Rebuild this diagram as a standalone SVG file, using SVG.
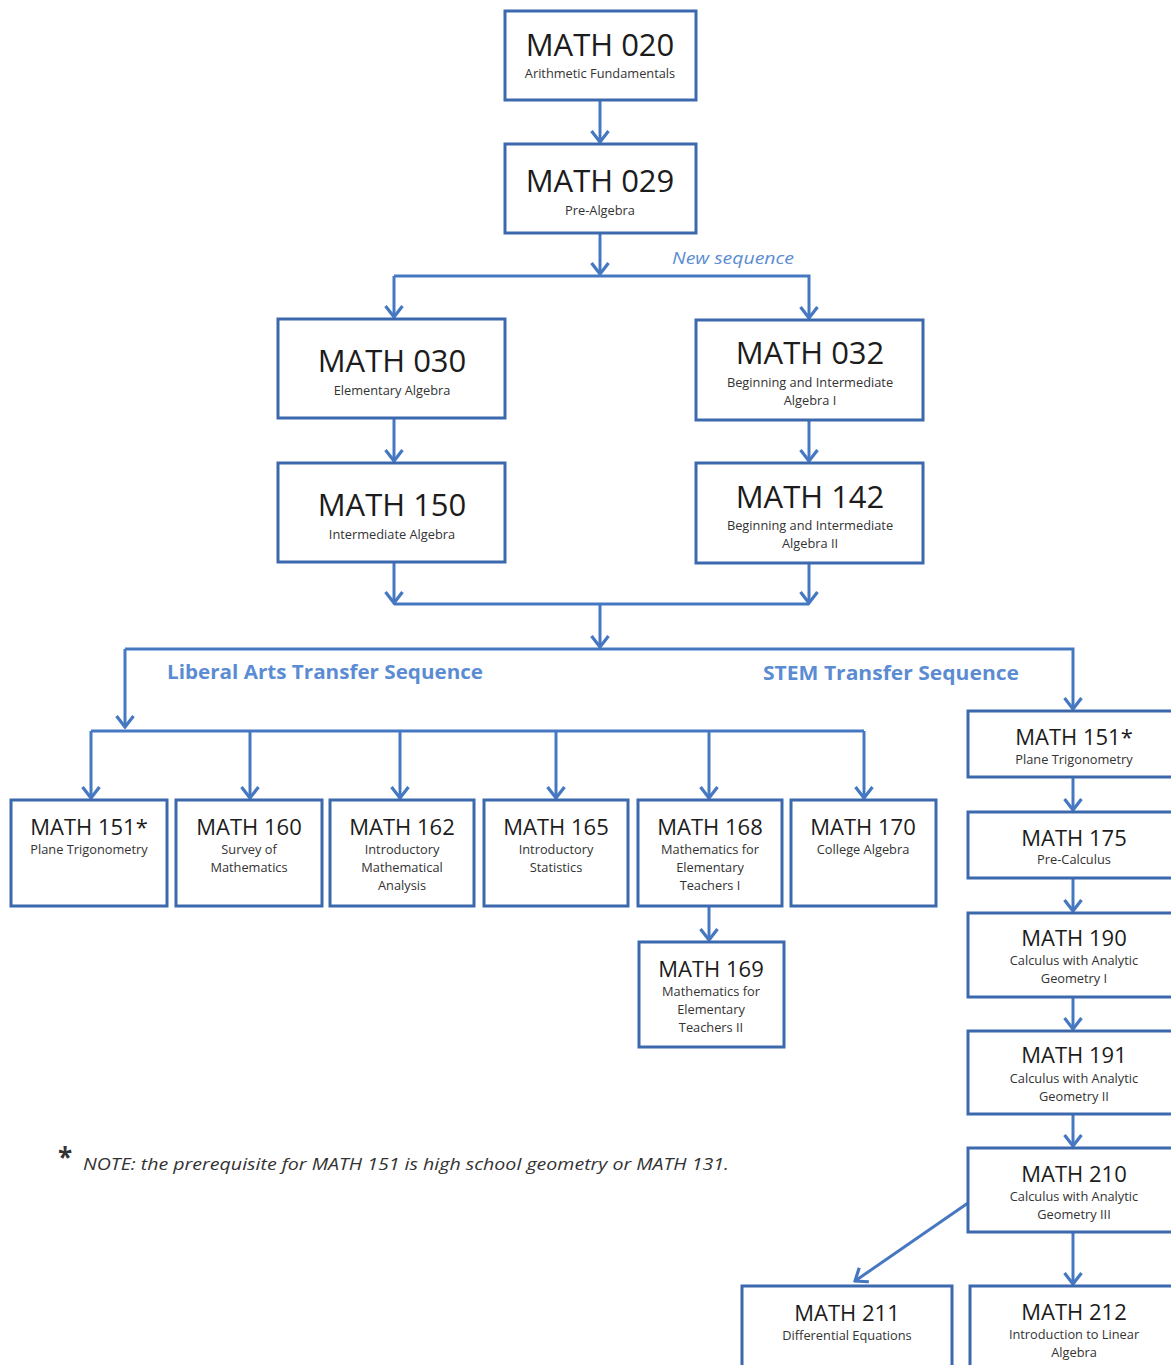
<svg xmlns="http://www.w3.org/2000/svg" width="1171" height="1365" viewBox="0 0 1171 1365">
<style>
.box{fill:#fff;stroke:#3c68ad;stroke-width:3}
.t1{font-family:"Open Sans",sans-serif;font-size:31px;fill:#1c1c1c;text-anchor:middle}
.t2{font-family:"Open Sans",sans-serif;font-size:22px;fill:#1c1c1c;text-anchor:middle}
.s{font-family:"Open Sans",sans-serif;font-size:12.8px;fill:#333;text-anchor:middle}
.c{fill:none;stroke:#4678c2;stroke-width:3}
.lab{font-family:"Open Sans",sans-serif;font-weight:bold;font-size:20px;fill:#5b8cd3}
</style>
<defs>
<marker id="ah" markerUnits="userSpaceOnUse" viewBox="-14 -11 16 22" refX="0" refY="0" markerWidth="16" markerHeight="22" orient="auto">
<path d="M-11,-8.5 L0,0 L-11,8.5" fill="none" stroke="#4678c2" stroke-width="3.2"/>
</marker>
</defs>
<rect width="1171" height="1365" fill="#fff"/>
<g id="connectors">
<line class="c" x1="600" y1="100" x2="600" y2="142" marker-end="url(#ah)"/>
<line class="c" x1="600" y1="233" x2="600" y2="274" marker-end="url(#ah)"/>
<polyline class="c" points="394,276 809,276 809,318" marker-end="url(#ah)"/>
<line class="c" x1="394" y1="276" x2="394" y2="317" marker-end="url(#ah)"/>
<line class="c" x1="394" y1="418" x2="394" y2="461" marker-end="url(#ah)"/>
<line class="c" x1="809" y1="420" x2="809" y2="461" marker-end="url(#ah)"/>
<line class="c" x1="394" y1="562" x2="394" y2="603" marker-end="url(#ah)"/>
<line class="c" x1="809" y1="563" x2="809" y2="603" marker-end="url(#ah)"/>
<line class="c" x1="394" y1="604" x2="809" y2="604"/>
<line class="c" x1="600" y1="604" x2="600" y2="647" marker-end="url(#ah)"/>
<polyline class="c" points="125,649 1073,649 1073,709" marker-end="url(#ah)"/>
<line class="c" x1="125" y1="649" x2="125" y2="727" marker-end="url(#ah)"/>
<line class="c" x1="91" y1="731" x2="864" y2="731"/>
<line class="c" x1="91" y1="731" x2="91" y2="798" marker-end="url(#ah)"/>
<line class="c" x1="250" y1="731" x2="250" y2="798" marker-end="url(#ah)"/>
<line class="c" x1="400" y1="731" x2="400" y2="798" marker-end="url(#ah)"/>
<line class="c" x1="556" y1="731" x2="556" y2="798" marker-end="url(#ah)"/>
<line class="c" x1="709" y1="731" x2="709" y2="798" marker-end="url(#ah)"/>
<line class="c" x1="864" y1="731" x2="864" y2="798" marker-end="url(#ah)"/>
<line class="c" x1="709" y1="906" x2="709" y2="940" marker-end="url(#ah)"/>
<line class="c" x1="1073" y1="777" x2="1073" y2="810" marker-end="url(#ah)"/>
<line class="c" x1="1073" y1="878" x2="1073" y2="911" marker-end="url(#ah)"/>
<line class="c" x1="1073" y1="997" x2="1073" y2="1029" marker-end="url(#ah)"/>
<line class="c" x1="1073" y1="1114" x2="1073" y2="1146" marker-end="url(#ah)"/>
<line class="c" x1="1073" y1="1232" x2="1073" y2="1284" marker-end="url(#ah)"/>
<line class="c" x1="968" y1="1203" x2="855" y2="1281" marker-end="url(#ah)"/>
</g>
<text class="lab" x="672" y="264" style="font-weight:normal;font-style:italic;font-size:17px" textLength="122" lengthAdjust="spacingAndGlyphs">New sequence</text>
<text class="lab" x="167" y="679" textLength="316" lengthAdjust="spacingAndGlyphs">Liberal Arts Transfer Sequence</text>
<text class="lab" x="763" y="680" textLength="256" lengthAdjust="spacingAndGlyphs">STEM Transfer Sequence</text>
<g id="math020"><rect class="box" x="505" y="11" width="191" height="89"/><text class="t1" x="600" y="56">MATH 020</text><text class="s" x="600" y="78">Arithmetic Fundamentals</text></g>
<g id="math029"><rect class="box" x="505" y="144" width="191" height="89"/><text class="t1" x="600" y="192">MATH 029</text><text class="s" x="600" y="215">Pre-Algebra</text></g>
<g id="math030"><rect class="box" x="278" y="319" width="227" height="99"/><text class="t1" x="392" y="372">MATH 030</text><text class="s" x="392" y="395">Elementary Algebra</text></g>
<g id="math032"><rect class="box" x="696" y="320" width="227" height="100"/><text class="t1" x="810" y="364">MATH 032</text><text class="s" x="810" y="387">Beginning and Intermediate</text><text class="s" x="810" y="405">Algebra I</text></g>
<g id="math150"><rect class="box" x="278" y="463" width="227" height="99"/><text class="t1" x="392" y="516">MATH 150</text><text class="s" x="392" y="539">Intermediate Algebra</text></g>
<g id="math142"><rect class="box" x="696" y="463" width="227" height="100"/><text class="t1" x="810" y="508">MATH 142</text><text class="s" x="810" y="530">Beginning and Intermediate</text><text class="s" x="810" y="548">Algebra II</text></g>
<g id="math151a"><rect class="box" x="11" y="800" width="156" height="106"/><text class="t2" x="89" y="835">MATH 151*</text><text class="s" x="89" y="854">Plane Trigonometry</text></g>
<g id="math160"><rect class="box" x="176" y="800" width="146" height="106"/><text class="t2" x="249" y="835">MATH 160</text><text class="s" x="249" y="854">Survey of</text><text class="s" x="249" y="872">Mathematics</text></g>
<g id="math162"><rect class="box" x="330" y="800" width="144" height="106"/><text class="t2" x="402" y="835">MATH 162</text><text class="s" x="402" y="854">Introductory</text><text class="s" x="402" y="872">Mathematical</text><text class="s" x="402" y="890">Analysis</text></g>
<g id="math165"><rect class="box" x="484" y="800" width="144" height="106"/><text class="t2" x="556" y="835">MATH 165</text><text class="s" x="556" y="854">Introductory</text><text class="s" x="556" y="872">Statistics</text></g>
<g id="math168"><rect class="box" x="638" y="800" width="144" height="106"/><text class="t2" x="710" y="835">MATH 168</text><text class="s" x="710" y="854">Mathematics for</text><text class="s" x="710" y="872">Elementary</text><text class="s" x="710" y="890">Teachers I</text></g>
<g id="math170"><rect class="box" x="791" y="800" width="145" height="106"/><text class="t2" x="863" y="835">MATH 170</text><text class="s" x="863" y="854">College Algebra</text></g>
<g id="math169"><rect class="box" x="639" y="942" width="145" height="105"/><text class="t2" x="711" y="977">MATH 169</text><text class="s" x="711" y="996">Mathematics for</text><text class="s" x="711" y="1014">Elementary</text><text class="s" x="711" y="1032">Teachers II</text></g>
<g id="math151b"><rect class="box" x="968" y="711" width="210" height="66"/><text class="t2" x="1074" y="745">MATH 151*</text><text class="s" x="1074" y="764">Plane Trigonometry</text></g>
<g id="math175"><rect class="box" x="968" y="812" width="210" height="66"/><text class="t2" x="1074" y="846">MATH 175</text><text class="s" x="1074" y="864">Pre-Calculus</text></g>
<g id="math190"><rect class="box" x="968" y="913" width="210" height="84"/><text class="t2" x="1074" y="946">MATH 190</text><text class="s" x="1074" y="965">Calculus with Analytic</text><text class="s" x="1074" y="983">Geometry I</text></g>
<g id="math191"><rect class="box" x="968" y="1031" width="210" height="83"/><text class="t2" x="1074" y="1063">MATH 191</text><text class="s" x="1074" y="1083">Calculus with Analytic</text><text class="s" x="1074" y="1101">Geometry II</text></g>
<g id="math210"><rect class="box" x="968" y="1148" width="210" height="84"/><text class="t2" x="1074" y="1182">MATH 210</text><text class="s" x="1074" y="1201">Calculus with Analytic</text><text class="s" x="1074" y="1219">Geometry III</text></g>
<g id="math211"><rect class="box" x="742" y="1286" width="210" height="90"/><text class="t2" x="847" y="1321">MATH 211</text><text class="s" x="847" y="1340">Differential Equations</text></g>
<g id="math212"><rect class="box" x="970" y="1286" width="210" height="90"/><text class="t2" x="1074" y="1320">MATH 212</text><text class="s" x="1074" y="1339">Introduction to Linear</text><text class="s" x="1074" y="1357">Algebra</text></g>
<text x="58" y="1167" style="font-family:'Open Sans',sans-serif;font-weight:bold;font-size:26px;fill:#333">*</text>
<text x="83" y="1170" style="font-family:'Open Sans',sans-serif;font-style:italic;font-size:16px;fill:#333" textLength="646" lengthAdjust="spacingAndGlyphs">NOTE: the prerequisite for MATH 151 is high school geometry or MATH 131.</text>
</svg>
